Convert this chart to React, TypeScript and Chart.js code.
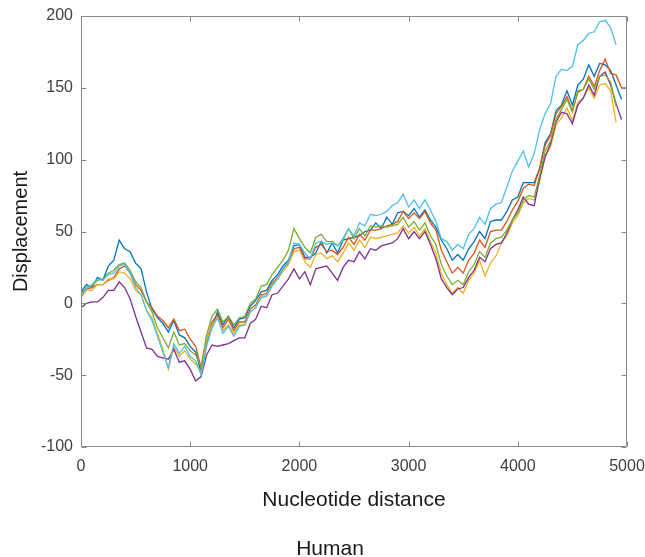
import React, { useEffect, useRef } from "react";
import { Chart, registerables } from "chart.js";

Chart.register(...registerables);

// nucleotide spacing between successive samples
const STEP_NT = 50;

const X_TICKS = [0, 1000, 2000, 3000, 4000, 5000];
const Y_TICKS = [-100, -50, 0, 50, 100, 150, 200];

const X_TITLE = "Nucleotide distance";
const Y_TITLE = "Displacement";
const CAPTION = "Human";

const blueSeries = [
  8, 13, 11, 18, 16, 26, 30, 44, 38, 36,
  28, 24, 8, -4, -10, -14, -20, -12, -22, -24,
  -30, -34, -48, -28, -16, -6, -15, -9, -17, -11,
  -10, -2, 2, 8, 9, 16, 20, 26, 30, 40,
  41, 32, 32, 35, 43, 35, 42, 35, 44, 45,
  46, 47, 50, 51, 56, 52, 60, 55, 63, 64,
  61, 66, 60, 65, 58, 53, 44, 38, 30, 34,
  30, 38, 43, 50, 45, 57, 58, 58, 64, 72,
  74, 84, 84, 84, 94, 112, 118, 134, 138, 148,
  138, 152, 156, 166, 158, 167, 166, 162, 152, 142,
];

const orangeSeries = [
  5, 10, 11, 13, 13, 16, 18, 24, 26, 21,
  13, 9, 1, -3, -9, -12, -17, -11, -19, -18,
  -25, -30, -45, -26, -13, -8, -17, -11, -19, -13,
  -13, -4, -1, 6, 7, 14, 18, 24, 28, 38,
  39, 31, 31, 39, 41, 36, 37, 34, 39, 46,
  41, 48, 44, 51, 51, 52, 54, 55, 57, 64,
  59, 63, 59, 64, 56, 51, 37, 29, 21, 25,
  21, 30, 35, 44, 39, 50, 51, 51, 57, 65,
  71, 80, 83, 82, 94, 110, 117, 132, 137, 144,
  134, 147, 149, 158, 151, 162, 170, 160, 159, 150,
  150,
];

const yellowSeries = [
  4, 9, 9, 13, 13, 17, 17, 22, 21, 17,
  9, 6, -5, -10, -21, -32, -46, -30, -37, -33,
  -39, -42, -48, -26, -15, -10, -19, -15, -21, -15,
  -15, -6, -3, 5, 6, 13, 17, 22, 27, 36,
  37, 29, 25, 34, 35, 31, 33, 29, 35, 42,
  37, 44, 39, 46, 45, 46, 47, 48, 49, 54,
  49, 53, 47, 52, 43, 35, 21, 13, 7, 11,
  7, 16, 21, 30, 19, 28, 33, 42, 47, 56,
  61, 70, 73, 72, 85, 102, 109, 124, 129, 136,
  127, 140, 143, 150, 143, 152, 153, 148, 126,
];

const purpleSeries = [
  -3, 0, 1, 1, 4, 9, 9, 15, 11, 3,
  -9, -20, -31, -32, -37, -38, -39, -32, -41, -40,
  -46, -54, -51, -36, -29, -30, -29, -28, -26, -24,
  -24, -14, -11, -2, -3, 6, 7, 12, 17, 24,
  17, 22, 13, 24, 25, 26, 21, 16, 25, 30,
  29, 36, 31, 38, 37, 40, 41, 42, 45, 52,
  45, 50, 45, 50, 41, 31, 17, 11, 6, 10,
  11, 18, 23, 32, 29, 38, 41, 42, 49, 58,
  65, 74, 69, 68, 87, 102, 111, 126, 133, 132,
  125, 138, 143, 152, 145, 158, 161, 152, 139, 128,
];

const greenSeries = [
  7, 11, 12, 16, 17, 21, 23, 27, 28, 23,
  15, 11, 1, -6, -17, -24, -31, -20, -29, -28,
  -33, -36, -44, -22, -9, -4, -13, -9, -15, -10,
  -9, 0, 3, 12, 13, 20, 25, 30, 37, 52,
  45, 39, 35, 46, 48, 43, 43, 40, 45, 52,
  45, 52, 47, 54, 53, 54, 53, 54, 55, 60,
  53, 57, 51, 56, 47, 41, 27, 19, 13, 16,
  13, 22, 27, 36, 32, 42, 45, 46, 51, 58,
  63, 72, 75, 74, 89, 106, 113, 128, 135, 142,
  133, 148, 149, 156, 149, 158, 159, 154, 137,
];

const cyanSeries = [
  5, 11, 13, 17, 16, 20, 21, 26, 27, 21,
  11, 6, -5, -12, -23, -34, -45, -28, -35, -30,
  -37, -40, -50, -30, -17, -10, -21, -16, -23, -16,
  -15, -6, -3, 4, 5, 12, 17, 24, 29, 42,
  41, 35, 31, 42, 43, 41, 42, 40, 44, 52,
  47, 56, 54, 62, 61, 62, 64, 68, 70, 76,
  67, 72, 66, 72, 65, 57, 45, 43, 37, 41,
  38, 48, 52, 60, 55, 66, 69, 70, 81, 92,
  99, 106, 95, 104, 121, 132, 139, 158, 163, 162,
  165, 180, 183, 188, 189, 196, 197, 192, 180,
];

const SERIES_VALUES = [blueSeries, orangeSeries, yellowSeries, purpleSeries, greenSeries, cyanSeries];
const SERIES_NAMES = ["Seq 1", "Seq 2", "Seq 3", "Seq 4", "Seq 5", "Seq 6"];
const SERIES_COLORS = ["#0072BD", "#D95319", "#EDB120", "#7E2F8E", "#77AC30", "#4DBEEE"];

const FONT = "'Liberation Sans', Arial, Helvetica, sans-serif";
const AXIS_COLOR = "#8a8a8a";
const TICK_TEXT = "#404040";
const TITLE_TEXT = "#1a1a1a";

const framePlugin = {
  id: "matlabFrame",
  afterDraw(chart: any) {
    const { ctx, chartArea } = chart;
    const { left, right, top, bottom } = chartArea;
    const xs = chart.scales.x;
    const ys = chart.scales.y;
    ctx.save();
    ctx.strokeStyle = AXIS_COLOR;
    ctx.lineWidth = 1;
    const L = Math.round(left) + 0.5;
    const R = Math.round(right) - 0.5;
    const T = Math.round(top) + 0.5;
    const B = Math.round(bottom) - 0.5;
    ctx.beginPath();
    ctx.rect(L, T, R - L, B - T);
    const tl = 5;
    X_TICKS.forEach((v) => {
      const p = Math.round(xs.getPixelForValue(v)) + 0.5;
      ctx.moveTo(p, B);
      ctx.lineTo(p, B - tl);
      ctx.moveTo(p, T);
      ctx.lineTo(p, T + tl);
    });
    Y_TICKS.forEach((v) => {
      const p = Math.round(ys.getPixelForValue(v)) + 0.5;
      ctx.moveTo(L, p);
      ctx.lineTo(L + tl, p);
      ctx.moveTo(R, p);
      ctx.lineTo(R - tl, p);
    });
    ctx.stroke();

    ctx.fillStyle = TITLE_TEXT;
    ctx.textAlign = "center";
    ctx.textBaseline = "middle";
    ctx.font = `21px ${FONT}`;
    ctx.fillText(X_TITLE, (left + right) / 2, 500);
    ctx.fillText(CAPTION, 330, 549);
    ctx.save();
    ctx.translate(21, (top + bottom) / 2);
    ctx.rotate(-Math.PI / 2);
    ctx.font = `20px ${FONT}`;
    ctx.fillText(Y_TITLE, 0, 0);
    ctx.restore();
    ctx.restore();
  },
};

export default function App() {
  const ref = useRef<HTMLCanvasElement | null>(null);

  useEffect(() => {
    document.body.style.margin = "0";
    const canvas = ref.current;
    if (!canvas) return;
    const datasets = SERIES_VALUES.map((vals, i) => ({
      label: SERIES_NAMES[i],
      data: vals.map((v, k) => ({ x: k * STEP_NT, y: v })),
      borderColor: SERIES_COLORS[i],
      backgroundColor: SERIES_COLORS[i],
      borderWidth: 1.3,
      pointRadius: 0,
      tension: 0,
      fill: false,
      order: SERIES_VALUES.length - i,
    }));
    const chart = new Chart(canvas, {
      type: "line",
      data: { datasets },
      options: {
        animation: false,
        responsive: false,
        devicePixelRatio: 1,
        layout: { padding: { top: 16, right: 18, left: 0, bottom: 0 } },
        plugins: {
          legend: { display: false },
          tooltip: { enabled: false },
          title: { display: false },
        },
        scales: {
          x: {
            type: "linear",
            min: 0,
            max: 5000,
            grid: { display: false, drawTicks: false },
            border: { display: false },
            afterBuildTicks: (s: any) => {
              s.ticks = X_TICKS.map((v) => ({ value: v }));
            },
            afterFit: (s: any) => {
              s.height = 110;
              s.paddingLeft = 0;
              s.paddingRight = 0;
            },
            ticks: {
              autoSkip: false,
              maxRotation: 0,
              padding: 10,
              color: TICK_TEXT,
              font: { family: FONT, size: 16 },
              callback: (v: any) => String(v),
            },
          },
          y: {
            type: "linear",
            min: -100,
            max: 200,
            grid: { display: false, drawTicks: false },
            border: { display: false },
            afterBuildTicks: (s: any) => {
              s.ticks = Y_TICKS.map((v) => ({ value: v }));
            },
            afterFit: (s: any) => {
              s.width = 81;
              s.paddingTop = 0;
              s.paddingBottom = 0;
            },
            ticks: {
              autoSkip: false,
              padding: 8,
              color: TICK_TEXT,
              font: { family: FONT, size: 16 },
              callback: (v: any) => String(v),
            },
          },
        },
      },
      plugins: [framePlugin],
    });
    return () => chart.destroy();
  }, []);

  return (
    <div style={{ width: 645, height: 557, position: "relative", background: "#fff" }}>
      <canvas ref={ref} width={645} height={557} style={{ display: "block" }} />
    </div>
  );
}
